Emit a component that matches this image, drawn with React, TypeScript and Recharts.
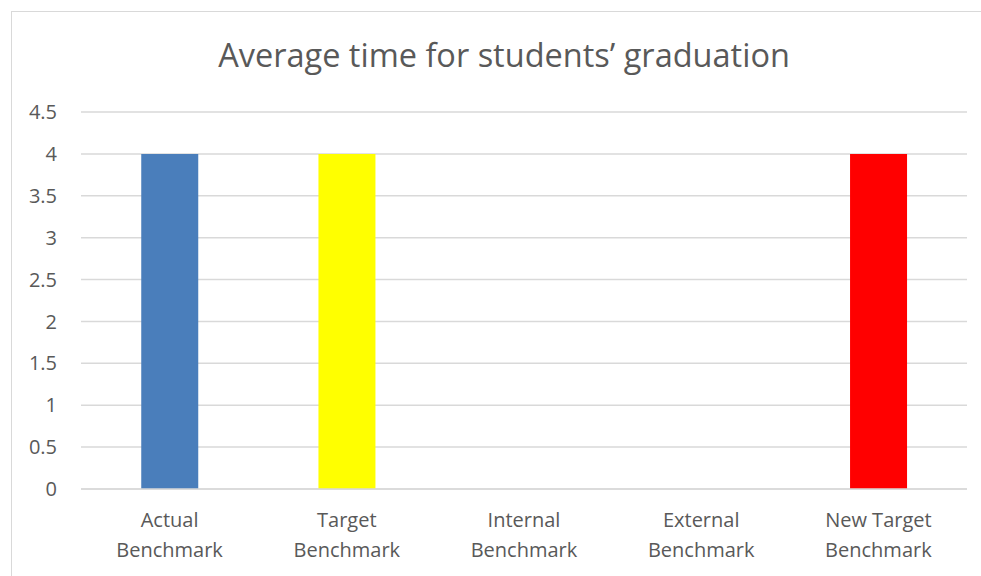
import { BarChart, Bar, XAxis, YAxis, CartesianGrid, Cell } from 'recharts'

const categories = ['Actual Benchmark', 'Target Benchmark', 'Internal Benchmark', 'External Benchmark', 'New Target Benchmark']
const values = [4, 4, 0, 0, 4]
const barColors = ['#4a7ebb', '#ffff00', '#4a7ebb', '#4a7ebb', '#ff0000']
const yTicks = [0, 0.5, 1, 1.5, 2, 2.5, 3, 3.5, 4, 4.5]

const data = categories.map((name, i) => ({ name, value: values[i] }))

const FONT = '"Open Sans", Lato, sans-serif'
const TEXT = '#595959'

const CategoryTick = (props: any) => {
  const { x, y, payload } = props
  const label: string = payload.value
  const cut = label.lastIndexOf(' ')
  const lines = [label.slice(0, cut), label.slice(cut + 1)]
  return (
    <text x={x} y={y} textAnchor="middle" fill={TEXT} fontSize={20} fontFamily={FONT}>
      {lines.map((line, i) => (
        <tspan key={i} x={x} dy={30}>
          {line}
        </tspan>
      ))}
    </text>
  )
}

const App = () => {
  return (
    <div style={{ position: 'fixed', left: 0, top: 0, width: 981, height: 576, background: '#fff', overflow: 'hidden' }}>
      <div style={{
        position: 'absolute',
        left: 11,
        top: 11,
        width: 1000,
        height: 600,
        border: '1.5px solid #d9d9d9',
        boxSizing: 'border-box'
      }} />
      <BarChart
        width={981}
        height={576}
        data={data}
        margin={{ top: 112, right: 14, bottom: 57, left: 0 }}
        barCategoryGap="34%"
        style={{ position: 'absolute', left: 0, top: 0 }}
      >
        <text x={504} y={67} textAnchor="middle" fill={TEXT} fontSize={32.5} fontFamily={FONT}>
          Average time for students’ graduation
        </text>
        <CartesianGrid vertical={false} stroke="#d9d9d9" strokeWidth={1.5} />
        <XAxis
          dataKey="name"
          tick={<CategoryTick />}
          tickLine={false}
          axisLine={{ stroke: '#d9d9d9', strokeWidth: 1.5 }}
          interval={0}
        />
        <YAxis
          width={81}
          domain={[0, 4.5]}
          ticks={yTicks}
          tickLine={false}
          axisLine={false}
          tickMargin={18}
          tick={{ fill: TEXT, fontSize: 20, fontFamily: FONT }}
        />
        <Bar dataKey="value" isAnimationActive={false}>
          {data.map((d, i) => (
            <Cell key={d.name} fill={barColors[i]} />
          ))}
        </Bar>
      </BarChart>
    </div>
  )
}

export default App
